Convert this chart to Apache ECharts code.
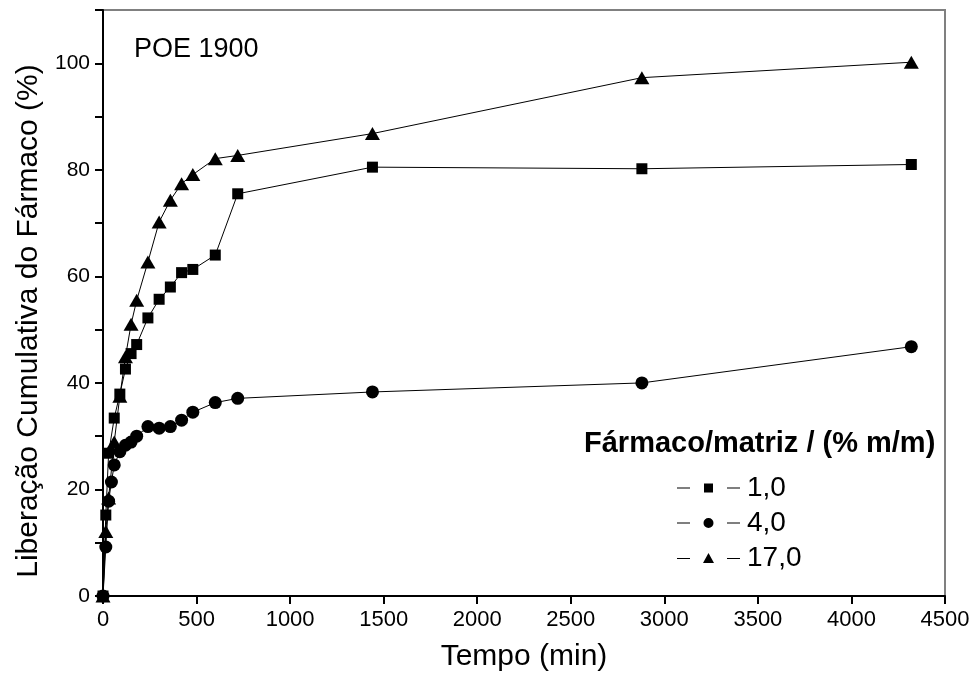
<!DOCTYPE html>
<html>
<head>
<meta charset="utf-8">
<script src="https://cdn.jsdelivr.net/npm/echarts@6/dist/echarts.min.js"></script>
<style>html,body{margin:0;padding:0;background:#fff}#c{width:976px;height:679px}</style>
</head>
<body>
<div id="c"></div>
<script>
// Data (time in min, cumulative release in %)
const seriesNames = ['1,0', '4,0', '17,0'];
const time_1 = [0, 15, 30, 60, 90, 120, 150, 180, 240, 300, 360, 420, 480, 600, 720, 1440, 2880, 4320];
const rel_1  = [0, 15.2, 26.8, 33.4, 37.9, 42.6, 45.5, 47.2, 52.2, 55.7, 58.0, 60.7, 61.3, 64.0, 75.5, 80.5, 80.2, 81.0];
const time_4 = [0, 15, 30, 45, 60, 90, 120, 150, 180, 240, 300, 360, 420, 480, 600, 720, 1440, 2880, 4320];
const rel_4  = [0, 9.2, 17.8, 21.4, 24.6, 27.1, 28.3, 28.9, 30.0, 31.8, 31.5, 31.8, 33.0, 34.5, 36.3, 37.1, 38.3, 40.0, 46.8];
const time_17 = [0, 15, 30, 60, 90, 120, 150, 180, 240, 300, 360, 420, 480, 600, 720, 1440, 2880, 4320];
const rel_17  = [0, 12.1, 18.4, 28.9, 37.5, 44.9, 51.0, 55.5, 62.7, 70.2, 74.3, 77.4, 79.1, 82.1, 82.7, 86.8, 97.3, 100.2];
const xTicks = [0, 500, 1000, 1500, 2000, 2500, 3000, 3500, 4000, 4500];
const yTicks = [0, 20, 40, 60, 80, 100];

const pair = (xs, ys) => xs.map((x, i) => [x, ys[i]]);
const FONT = 'Liberation Sans';

const chart = echarts.init(document.getElementById('c'), null, {renderer: 'canvas'});
const lineStyle = {color: '#000', width: 1};
const mk = (name, data, symbol, size) => ({
  name, type: 'line', data, symbol, symbolSize: size,
  lineStyle, itemStyle: {color: '#000'}, showSymbol: true, animation: false, z: 3
});

chart.setOption({
  backgroundColor: '#fff',
  animation: false,
  textStyle: {fontFamily: FONT, color: '#000'},
  title: [
    {text: 'POE 1900', left: 129, top: 31, textStyle: {fontFamily: FONT, fontSize: 27, fontWeight: 'normal', color: '#000'}},
    {text: 'Fármaco/matriz / (% m/m)', left: 579, top: 424, textStyle: {fontFamily: FONT, fontSize: 29, fontWeight: 'bold', color: '#000'}}
  ],
  legend: {
    orient: 'vertical', left: 672, top: 469, itemGap: 7,
    itemWidth: 63, itemHeight: 11,
    textStyle: {fontFamily: FONT, fontSize: 28, color: '#000', padding: [0, 0, 0, 2]},
    data: [
      {name: '1,0', icon: 'path://M0,5h13v1H0zM27,1h9v9h-9zM50,5h13v1H50z'},
      {name: '4,0', icon: 'path://M0,5h13v1H0zM26.5,5.5a5,5 0 1,0 10,0a5,5 0 1,0 -10,0zM50,5h13v1H50z'},
      {name: '17,0', icon: 'path://M0,5h13v1H0zM31.5,0L37,10H26zM50,5h13v1H50z'}
    ]
  },
  grid: {left: 103, right: 31, top: 10, bottom: 83, show: true, borderColor: '#808080', borderWidth: 2},
  xAxis: {
    type: 'value', min: 0, max: 4500, interval: 500,
    name: 'Tempo (min)', nameLocation: 'middle', nameGap: 46,
    nameTextStyle: {fontFamily: FONT, fontSize: 30, color: '#000'},
    axisLine: {lineStyle: {color: '#000', width: 2}},
    axisTick: {show: true, length: 8, inside: false, lineStyle: {color: '#000', width: 2}},
    axisLabel: {fontFamily: FONT, fontSize: 22, color: '#000', margin: 13,
      formatter: v => xTicks.includes(v) ? String(v) : ''},
    splitLine: {show: false}
  },
  yAxis: {
    type: 'value', min: 0, max: 110, interval: 10,
    name: 'Liberação Cumulativa do Fármaco (%)', nameLocation: 'middle', nameGap: 58,
    nameTextStyle: {fontFamily: FONT, fontSize: 30, color: '#000', padding: [0, 36, 0, 0]},
    axisLine: {lineStyle: {color: '#000', width: 2}},
    axisTick: {show: true, length: 8, inside: false, lineStyle: {color: '#000', width: 2}},
    axisLabel: {fontFamily: FONT, fontSize: 21, color: '#000', margin: 13,
      formatter: v => yTicks.includes(v) ? String(v) : ''},
    splitLine: {show: false}
  },
  series: [
    mk(seriesNames[0], pair(time_1, rel_1), 'rect', 11),
    mk(seriesNames[1], pair(time_4, rel_4), 'circle', 13),
    mk(seriesNames[2], pair(time_17, rel_17), 'triangle', [15, 13])
  ]
});
</script>
</body>
</html>
